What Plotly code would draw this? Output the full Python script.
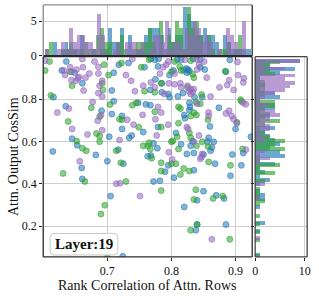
import numpy as np
import plotly.graph_objects as go

# ---------------- data ----------------
blue_x = [0.636,0.629,0.649,0.710,0.718,0.733,0.758,0.661,0.707,0.616,0.710,0.748,0.760,0.635,0.691,0.707,0.723,
          0.723,0.756,0.703,0.734,0.738,0.645,0.615,0.653,0.717,0.682,0.763,0.700,0.725,0.660,0.661,0.705,0.724,
          0.768,0.774,0.780,0.809,0.815,0.834,0.845,0.891,0.779,0.823,0.826,0.819,0.828,0.824,0.803,0.797,0.845,0.852,0.885,
          0.775,0.785,0.767,0.785,0.795,0.797,0.818,0.810,0.836,0.848,0.828,0.767,0.829,0.828,0.874,0.820,0.821,
          0.779,0.860,0.900,0.807,0.858,0.866,0.856,0.833,0.924,0.772,0.815,0.830,0.863,0.778,0.824,0.835,0.850,0.861,
          0.895,0.912,0.768,0.795,0.790,0.835,0.868,0.909,0.892,0.804,0.782,0.772,0.850,0.870,0.882,0.840,0.820,0.840,0.885,0.838]
blue_y = [0.977,0.935,0.924,0.924,0.962,0.970,0.950,0.874,0.840,0.809,0.789,0.782,0.775,0.766,0.745,0.729,0.720,
          0.659,0.644,0.622,0.617,0.628,0.613,0.553,0.582,0.561,0.536,0.530,0.507,0.495,0.475,0.423,0.342,0.058,
          0.990,0.985,0.990,0.985,0.985,0.990,0.987,0.985,0.954,0.944,0.939,0.935,0.931,0.924,0.935,0.913,0.950,0.939,0.929,
          0.893,0.874,0.843,0.832,0.824,0.809,0.828,0.812,0.809,0.809,0.782,0.771,0.763,0.748,0.759,0.725,0.709,
          0.668,0.671,0.659,0.640,0.617,0.598,0.598,0.602,0.622,0.591,0.587,0.579,0.571,0.568,0.541,0.545,0.538,0.556,
          0.538,0.545,0.533,0.487,0.457,0.464,0.495,0.487,0.438,0.429,0.414,0.411,0.365,0.346,0.331,0.322,0.291,0.208,0.208,0.181]

green_x = [0.610,0.695,0.603,0.642,0.722,0.753,0.702,0.645,0.692,0.693,0.758,0.612,0.704,0.739,0.745,0.675,0.688,0.719,0.723,0.639,
           0.749,0.683,0.688,0.652,0.688,0.661,0.667,0.756,0.763,0.714,0.721,0.631,0.665,0.729,0.696,0.690,0.700,
           0.765,0.805,0.830,0.813,0.815,0.800,0.833,0.835,0.784,0.774,0.825,0.847,0.838,0.845,0.908,0.909,0.811,0.814,
           0.774,0.830,0.839,0.835,0.811,0.857,0.902,0.884,
           0.784,0.828,0.830,0.809,0.848,0.802,0.800,0.765,0.839,0.857,0.767,0.811,0.911,0.769,0.800,0.807,0.784,0.784,
           0.819,0.828,0.814,0.858,0.892,0.784,0.838,0.865,0.880,0.835,0.830,0.891,0.840]
green_y = [0.977,0.962,0.935,0.929,0.970,0.950,0.913,0.863,0.874,0.843,0.837,0.817,0.774,0.771,0.782,0.759,0.717,0.705,0.702,0.694,
           0.667,0.637,0.625,0.602,0.599,0.568,0.556,0.579,0.579,0.556,0.499,0.449,0.411,0.411,0.299,0.257,0.052,
           0.985,0.977,0.981,0.954,0.935,0.929,0.917,0.901,0.874,0.832,0.855,0.821,0.786,0.778,0.797,0.789,0.763,0.755,
           0.740,0.720,0.725,0.736,0.686,0.702,0.690,0.931,
           0.668,0.640,0.617,0.622,0.598,0.602,0.598,0.594,0.579,0.576,0.564,0.564,0.564,0.521,0.495,0.495,0.499,0.460,
           0.472,0.460,0.444,0.503,0.487,0.368,0.372,0.331,0.342,0.326,0.181,0.138,0.208]

purple_x = [0.603,0.661,0.680,0.686,0.632,0.642,0.652,0.644,0.662,0.672,0.686,0.739,0.634,0.656,0.666,0.654,0.644,0.651,
            0.729,0.737,0.692,0.688,0.663,0.756,0.743,0.686,0.692,0.677,0.640,0.690,0.622,0.731,0.755,0.685,
            0.645,0.692,0.741,0.669,0.719,0.657,0.714,0.720,0.751,
            0.795,0.821,0.840,0.851,0.903,0.787,0.792,0.805,0.843,0.840,0.855,0.782,0.904,0.913,0.890,0.912,0.768,0.796,
            0.805,0.814,0.774,0.815,0.825,0.887,0.875,0.897,0.830,0.835,0.828,0.833,0.830,0.789,0.861,0.840,0.912,0.916,
            0.779,0.784,0.858,0.890,0.885,0.894,0.858,0.775,0.897,
            0.795,0.824,0.826,0.902,0.777,0.843,0.835,0.796,0.848,0.847,0.845,0.916,0.801,0.863]
purple_y = [0.981,0.989,0.977,0.952,0.935,0.950,0.939,0.929,0.950,0.920,0.920,0.989,0.913,0.904,0.901,0.898,0.889,0.886,
            0.913,0.886,0.886,0.863,0.840,0.863,0.837,0.828,0.812,0.786,0.755,0.723,0.736,0.702,0.725,0.697,
            0.659,0.653,0.679,0.633,0.607,0.506,0.400,0.403,0.342,
            0.977,0.985,0.985,0.977,0.975,0.950,0.962,0.920,0.962,0.939,0.901,0.920,0.913,0.898,0.889,0.878,0.878,0.874,
            0.870,0.874,0.855,0.855,0.863,0.866,0.855,0.843,0.847,0.847,0.837,0.832,0.824,0.824,0.812,0.778,0.782,0.775,
            0.763,0.736,0.736,0.745,0.732,0.720,0.720,0.705,0.705,
            0.679,0.668,0.659,0.686,0.628,0.628,0.598,0.549,0.541,0.526,0.518,0.561,0.515,0.138]

series_names = ["blue", "green", "purple"]
series_colors = ["31,119,180", "44,160,44", "148,103,189"]
x_ticks = [0.7, 0.8, 0.9]
y_ticks = [0.2, 0.4, 0.6, 0.8]
top_ticks = [0, 5]
right_ticks = [0, 10]
n_bins = 50
label_text = "Layer:19"
x_title = "Rank Correlation of Attn. Rows"
y_title = "Attn. Output CosSim"

FONT = "Liberation Serif"
W, H = 319, 302

fig = go.Figure()
data = [(blue_x, blue_y), (green_x, green_y), (purple_x, purple_y)]

for (xs, ys), name, col in zip(data, series_names, series_colors):
    fig.add_trace(go.Scatter(
        x=xs, y=ys, mode="markers", name=name, showlegend=False,
        marker=dict(size=6, color=f"rgba({col},0.55)", line=dict(width=1, color=f"rgba({col},0.55)")),
        xaxis="x", yaxis="y"))

for (xs, ys), name, col in zip(data, series_names, series_colors):
    cx, ex = np.histogram(np.array(xs), bins=n_bins)
    fig.add_trace(go.Bar(
        x=(ex[:-1] + ex[1:]) / 2, y=cx, width=np.diff(ex), showlegend=False,
        marker=dict(color=f"rgba({col},0.65)", line=dict(width=0)),
        xaxis="x2", yaxis="y2"))
    cy, ey = np.histogram(np.array(ys), bins=n_bins)
    fig.add_trace(go.Bar(
        y=(ey[:-1] + ey[1:]) / 2, x=cy, width=np.diff(ey), orientation="h", showlegend=False,
        marker=dict(color=f"rgba({col},0.65)", line=dict(width=0)),
        xaxis="x3", yaxis="y3"))

def px_x(p):
    return p / W

def px_y(p):
    return 1 - p / H

main_x = [px_x(41), px_x(254)]
main_y = [px_y(263), px_y(58)]
top_y = [px_y(57), px_y(5)]
right_x = [px_x(257), px_x(310)]

grid = "#cfcfcf"
tickfont = dict(family=FONT, size=12, color="#111")
common = dict(showgrid=True, gridcolor=grid, gridwidth=1, zeroline=False,
              ticks="outside", ticklen=3, tickcolor="#222", tickfont=tickfont,
              showline=False)

fig.update_layout(
    width=W, height=H, margin=dict(l=0, r=0, t=0, b=0),
    paper_bgcolor="white", plot_bgcolor="white",
    barmode="overlay", bargap=0,
    xaxis=dict(domain=main_x, range=[0.6, 0.926], tickvals=x_ticks, anchor="y", **common),
    yaxis=dict(domain=main_y, range=[0.055, 1.0], tickvals=y_ticks, tickformat=".1f", anchor="x", **common),
    xaxis2=dict(domain=main_x, range=[0.6, 0.926], tickvals=x_ticks, showticklabels=False, anchor="y2", **common),
    yaxis2=dict(domain=top_y, range=[0, 7.35], tickvals=top_ticks, anchor="x2", **common),
    xaxis3=dict(domain=right_x, range=[0, 10.5], tickvals=right_ticks, anchor="y3", **common),
    yaxis3=dict(domain=main_y, range=[0.055, 1.0], tickvals=y_ticks, showticklabels=False, anchor="x3", **common),
)

shapes = []
def frame(x0, x1, y0, y1, cols, w=1.3):
    # bottom, right, top, left
    segs = [(x0, y0, x1, y0), (x1, y0, x1, y1), (x0, y1, x1, y1), (x0, y0, x0, y1)]
    for (a, b, c, d), col in zip(segs, cols):
        shapes.append(dict(type="line", xref="paper", yref="paper", x0=a, y0=b, x1=c, y1=d,
                           line=dict(color=col, width=w), layer="above"))

dark = "#2a2a2a"
frame(main_x[0], main_x[1], main_y[0], main_y[1], [dark, dark, dark, dark])
frame(main_x[0], main_x[1], top_y[0], top_y[1], [dark, dark, "#8a8a8a", "#8a8a8a"])
frame(right_x[0], right_x[1], main_y[0], main_y[1], ["#444", "#444", "#444", "#444"])

# rounded label box
x0, x1 = px_x(48), px_x(117)
y0, y1 = px_y(261), px_y(239)
rx, ry = 4 / W, 4 / H
path = (f"M {x0+rx},{y0} L {x1-rx},{y0} Q {x1},{y0} {x1},{y0+ry} L {x1},{y1-ry} Q {x1},{y1} {x1-rx},{y1} "
        f"L {x0+rx},{y1} Q {x0},{y1} {x0},{y1-ry} L {x0},{y0+ry} Q {x0},{y0} {x0+rx},{y0} Z")
shapes.append(dict(type="path", xref="paper", yref="paper", path=path,
                   fillcolor="rgba(255,255,255,0.85)", line=dict(color="#c8c8c8", width=1), layer="above"))
fig.update_layout(shapes=shapes)

fig.add_annotation(x=(x0 + x1) / 2, y=(y0 + y1) / 2, xref="paper", yref="paper",
                   text=f"<b>{label_text}</b>", showarrow=False,
                   font=dict(family=FONT, size=15, color="#111"), xanchor="center", yanchor="middle")
fig.add_annotation(x=px_x(147.5), y=px_y(301), xref="paper", yref="paper", text=x_title, showarrow=False,
                   font=dict(family=FONT, size=14, color="#111"), xanchor="center", yanchor="bottom",
                   borderpad=0)
fig.add_annotation(x=px_x(10), y=px_y(160), xref="paper", yref="paper", text=y_title, showarrow=False,
                   textangle=-90, font=dict(family=FONT, size=14, color="#111"), xanchor="center", yanchor="middle")

fig.write_html("out.html", config={"displayModeBar": False},
               post_script="document.body.style.margin='0';document.body.style.overflow='hidden';")
